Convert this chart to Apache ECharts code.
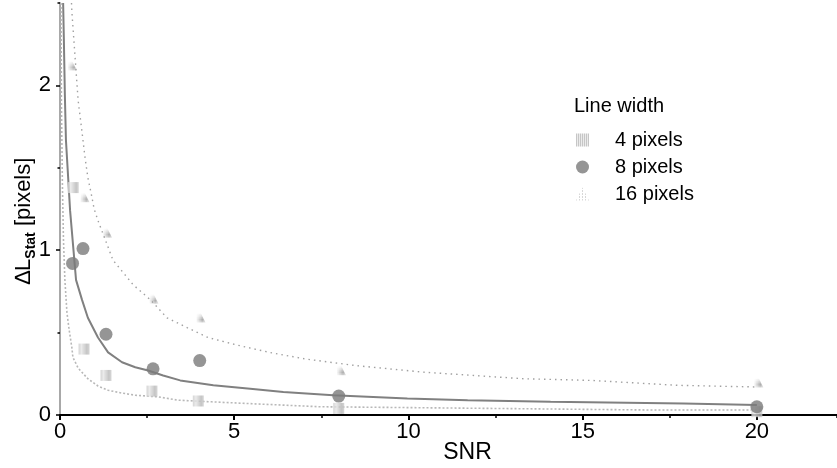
<!DOCTYPE html>
<html><head><meta charset="utf-8">
<script src="https://cdn.jsdelivr.net/npm/echarts@6/dist/echarts.min.js"></script>
<style>html,body{margin:0;padding:0;background:#fff}#c{width:837px;height:468px}</style>
</head><body><div id="c"></div>
<script>
// ---- data ----
const legendTitle = 'Line width';
const seriesNames = ['4 pixels', '8 pixels', '16 pixels'];
const xTickValues = [0, 5, 10, 15, 20];
const yTickValues = [0, 1, 2];

const snr4 = [0.38, 0.69, 1.32, 2.64, 3.97, 8.0, 20];
const val4 = [1.38, 0.40, 0.24, 0.145, 0.085, 0.04, 0.02];
const snr8 = [0.36, 0.66, 1.32, 2.67, 4.01, 8.0, 20];
const val8 = [0.92, 1.01, 0.49, 0.28, 0.33, 0.115, 0.05];
const snr16 = [0.30, 0.66, 1.31, 2.64, 3.99, 8.02, 20];
const val16 = [2.13, 1.33, 1.115, 0.715, 0.60, 0.28, 0.206];

const fit4X = [0.03, 0.04, 0.07, 0.10, 0.14, 0.20, 0.26, 0.34, 0.37, 0.52, 0.80, 1.09, 1.38, 1.78, 2.16, 2.82, 3.39, 4.34, 5.66, 7.47, 11.38, 17.10, 20.0];
const fit4Y = [2.50, 1.91, 1.39, 1.06, 0.82, 0.62, 0.52, 0.41, 0.35, 0.285, 0.22, 0.176, 0.15, 0.133, 0.12, 0.11, 0.09, 0.08, 0.067, 0.05, 0.042, 0.03, 0.03];
const fit8X = [0.09, 0.11, 0.14, 0.17, 0.29, 0.46, 0.63, 0.80, 1.09, 1.38, 1.78, 2.16, 2.53, 2.96, 3.45, 4.40, 5.46, 6.41, 7.84, 9.97, 11.70, 14.08, 17.90, 20.0];
const fit8Y = [2.50, 2.29, 1.94, 1.67, 1.24, 0.82, 0.70, 0.59, 0.47, 0.38, 0.32, 0.29, 0.27, 0.24, 0.21, 0.18, 0.16, 0.14, 0.12, 0.10, 0.09, 0.08, 0.07, 0.06];
const fit16X = [0.33, 0.34, 0.43, 0.52, 0.63, 0.72, 0.80, 0.89, 0.98, 1.09, 1.52, 2.10, 2.59, 3.07, 3.65, 4.25, 5.17, 6.01, 7.04, 8.48, 10.43, 13.30, 15.23, 17.73, 20.0];
const fit16Y = [2.50, 2.45, 2.18, 1.91, 1.72, 1.56, 1.44, 1.35, 1.25, 1.18, 0.94, 0.79, 0.70, 0.59, 0.53, 0.47, 0.42, 0.38, 0.34, 0.30, 0.26, 0.22, 0.21, 0.18, 0.17];

// ---- helpers ----
const zip = (xs, ys) => xs.map((x, i) => [x, ys[i]]);
function makePattern(w, h, bg, fg, cells) {
  const c = document.createElement('canvas');
  c.width = w; c.height = h;
  const g = c.getContext('2d');
  if (bg) { g.fillStyle = bg; g.fillRect(0, 0, w, h); }
  g.fillStyle = fg;
  cells.forEach(p => g.fillRect(p[0], p[1], p[2], p[3]));
  return { image: c, repeat: 'repeat' };
}
const pat4 = makePattern(2, 2, '#e6e6e6', '#b8b8b8', [[0, 0, 1, 2]]);
const pat16 = makePattern(3, 3, null, '#9a9a9a', [[0, 0, 1, 1]]);

const FONT = 'Liberation Sans, Arial, Helvetica, sans-serif';
const XMAX = 22.3, YMAX = 2.5;
const gridBox = { left: 60, right: 0, top: 3, bottom: 53, containLabel: false, outerBoundsMode: 'none' };

const chart = echarts.init(document.getElementById('c'), null, { renderer: 'canvas' });
chart.setOption({
  animation: false,
  backgroundColor: '#fff',
  textStyle: { fontFamily: FONT, color: '#000' },
  title: {
    text: legendTitle, left: 574, top: 96, padding: 0,
    textStyle: { fontFamily: FONT, fontSize: 20, fontWeight: 'normal', color: '#000' }
  },
  legend: {
    data: seriesNames, orient: 'vertical', left: 576, top: 130,
    itemWidth: 13, itemHeight: 13, itemGap: 7, padding: 0,
    textStyle: { fontFamily: FONT, fontSize: 20, color: '#000', padding: [0, 0, 0, 21] }
  },
  grid: [Object.assign({}, gridBox), Object.assign({}, gridBox)],
  xAxis: [{
    type: 'value', gridIndex: 0, min: 0, max: XMAX, interval: 5,
    name: 'SNR', nameLocation: 'middle', nameGap: 26, nameMoveOverlap: false,
    nameTextStyle: { fontFamily: FONT, fontSize: 23, color: '#000', padding: [0, 0, 0, 38] },
    axisLine: { show: true, onZero: false, lineStyle: { color: '#000', width: 2 } },
    axisTick: { show: true, inside: false, length: 5, lineStyle: { color: '#000', width: 2 } },
    axisLabel: { show: true, margin: 6, fontSize: 22, fontFamily: FONT, color: '#000', showMaxLabel: false,
      formatter: v => (xTickValues.indexOf(v) >= 0 ? String(v) : '') },
    splitLine: { show: false }
  }, {
    type: 'value', gridIndex: 1, min: 0, max: XMAX, interval: 2.5,
    axisLine: { show: false }, axisLabel: { show: false }, splitLine: { show: false },
    axisTick: { show: true, length: 3, lineStyle: { color: '#000', width: 1.5 } }
  }],
  yAxis: [{
    type: 'value', gridIndex: 0, min: 0, max: YMAX, interval: 1,
    name: '{a|∆L}{s|Stat}{a| [pixels]}', nameLocation: 'middle', nameGap: 22, nameRotate: 90,
    nameMoveOverlap: false,
    nameTextStyle: {
      fontFamily: FONT, fontSize: 22, color: '#000', padding: [0, 24, 0, 0],
      rich: {
        a: { fontFamily: FONT, fontSize: 22, color: '#000', lineHeight: 28, verticalAlign: 'middle' },
        s: { fontFamily: FONT, fontSize: 14, fontWeight: 'bold', color: '#000', lineHeight: 14, verticalAlign: 'bottom' }
      }
    },
    axisLine: { show: true, onZero: false, lineStyle: { color: '#a8a8a8', width: 2 } },
    axisTick: { show: true, length: 4, lineStyle: { color: '#000', width: 1.5 } },
    axisLabel: { show: true, margin: 9, fontSize: 22, fontFamily: FONT, color: '#000', showMaxLabel: false,
      formatter: v => (yTickValues.indexOf(v) >= 0 ? String(v) : '') },
    splitLine: { show: false }
  }, {
    type: 'value', gridIndex: 1, min: 0, max: YMAX, interval: 0.5,
    axisLine: { show: false }, axisLabel: { show: false }, splitLine: { show: false },
    axisTick: { show: true, length: 2.5, lineStyle: { color: '#000', width: 1.5 } }
  }],
  series: [
    { name: 'fit4', type: 'line', data: zip(fit4X, fit4Y), showSymbol: false, z: 1, silent: true,
      lineStyle: { color: '#b8b8b8', width: 1.6, type: [2, 2] } },
    { name: 'fit16', type: 'line', data: zip(fit16X, fit16Y), showSymbol: false, z: 1, silent: true,
      lineStyle: { color: '#a0a0a0', width: 1.4, type: [1.5, 4] } },
    { name: 'fit8', type: 'line', data: zip(fit8X, fit8Y), showSymbol: false, z: 2, silent: true,
      lineStyle: { color: '#808080', width: 2 } },
    { name: seriesNames[0], type: 'scatter', data: zip(snr4, val4), symbol: 'rect', symbolSize: 11, z: 3,
      itemStyle: { color: pat4 } },
    { name: seriesNames[1], type: 'scatter', data: zip(snr8, val8), symbol: 'circle', symbolSize: 13, z: 4,
      itemStyle: { color: '#7b7b7b' } },
    { name: seriesNames[2], type: 'scatter', data: zip(snr16, val16), symbol: 'triangle', symbolSize: 13, z: 3,
      itemStyle: { color: pat16 } }
  ]
});
</script></body></html>
